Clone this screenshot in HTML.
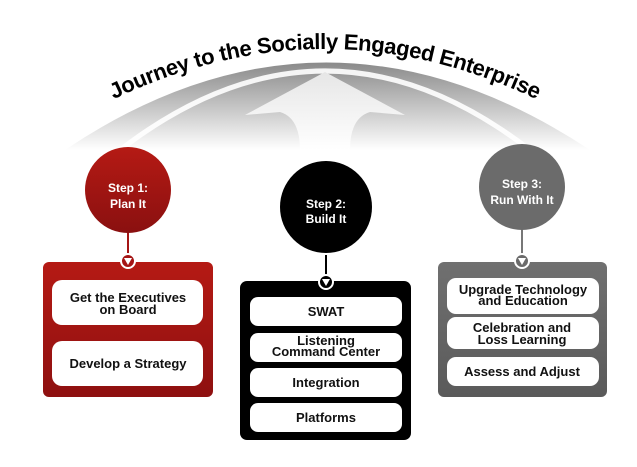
<!DOCTYPE html>
<html><head><meta charset="utf-8"><style>
html,body{margin:0;padding:0;background:#fff;width:637px;height:467px;overflow:hidden}
svg{display:block}
text{font-family:"Liberation Sans",sans-serif;font-weight:bold}
</style></head><body>
<svg width="637" height="467" viewBox="0 0 637 467" xmlns="http://www.w3.org/2000/svg">
<defs>
<linearGradient id="dome" x1="0" y1="0" x2="0" y2="1">
<stop offset="0" stop-color="#8a8a8a"/><stop offset="0.5" stop-color="#c4c4c4"/><stop offset="1" stop-color="#ffffff"/>
</linearGradient>
<linearGradient id="arr" x1="0" y1="0" x2="0" y2="1">
<stop offset="0" stop-color="#e6e6e6"/><stop offset="1" stop-color="#ffffff"/>
</linearGradient>
<linearGradient id="red" x1="0" y1="0" x2="0" y2="1">
<stop offset="0" stop-color="#b51a14"/><stop offset="1" stop-color="#8e1010"/>
</linearGradient>
<linearGradient id="redc" x1="0" y1="0" x2="0" y2="1">
<stop offset="0" stop-color="#b51a14"/><stop offset="1" stop-color="#8a1010"/>
</linearGradient>
<linearGradient id="gry" x1="0" y1="0" x2="0" y2="1">
<stop offset="0" stop-color="#707070"/><stop offset="1" stop-color="#5a5a5a"/>
</linearGradient>
<path id="tp" d="M100,106 Q325,-8 550,106"/>
</defs>
<path d="M65,150 Q325,-25 590,150 Z" fill="url(#dome)"/>
<path d="M120,150 Q325,-8 530,150" fill="none" stroke="#fff" stroke-width="5" opacity="0.9"/>
<path d="M325,72 L245,115 L280,112 Q300,118 300,150 L350,150 Q350,118 370,112 L405,115 Z" fill="url(#arr)"/>
<text font-size="22" fill="#000" letter-spacing="-0.4"><textPath href="#tp" startOffset="50%" text-anchor="middle">Journey to the Socially Engaged Enterprise</textPath></text>

<line x1="128" y1="230" x2="128" y2="258" stroke="#a51515" stroke-width="2"/>
<rect x="43" y="262" width="170" height="135" rx="6" fill="url(#red)"/>
<circle cx="128" cy="190" r="43" fill="url(#redc)"/>
<circle cx="128" cy="261" r="7" fill="#a51515" stroke="#fff" stroke-width="2"/>
<path d="M124,258 L132,258 L128,265 Z" fill="#fff"/>
<text x="128" y="192" font-size="12" fill="#fff" text-anchor="middle">Step 1:</text>
<text x="128" y="208" font-size="12" fill="#fff" text-anchor="middle">Plan It</text>
<rect x="52" y="280" width="151" height="45" rx="10" fill="#fff"/>
<rect x="52" y="341" width="151" height="45" rx="10" fill="#fff"/>
<text x="128" y="302" font-size="13" fill="#111" text-anchor="middle">Get the Executives</text>
<text x="128" y="314" font-size="13" fill="#111" text-anchor="middle">on Board</text>
<text x="128" y="368" font-size="13" fill="#111" text-anchor="middle">Develop a Strategy</text>

<line x1="326" y1="255" x2="326" y2="278" stroke="#000" stroke-width="2"/>
<rect x="240" y="281" width="171" height="159" rx="7" fill="#000"/>
<circle cx="326" cy="207" r="46" fill="#000"/>
<circle cx="326" cy="282" r="7" fill="#000" stroke="#fff" stroke-width="2"/>
<path d="M322,279 L330,279 L326,286 Z" fill="#fff"/>
<text x="326" y="208" font-size="12" fill="#fff" text-anchor="middle">Step 2:</text>
<text x="326" y="223" font-size="12" fill="#fff" text-anchor="middle">Build It</text>
<rect x="250" y="297" width="152" height="29" rx="8" fill="#fff"/>
<rect x="250" y="333" width="152" height="29" rx="8" fill="#fff"/>
<rect x="250" y="368" width="152" height="29" rx="8" fill="#fff"/>
<rect x="250" y="403" width="152" height="29" rx="8" fill="#fff"/>
<text x="326" y="316" font-size="13" fill="#111" text-anchor="middle">SWAT</text>
<text x="326" y="345" font-size="13" fill="#111" text-anchor="middle">Listening</text>
<text x="326" y="356" font-size="13" fill="#111" text-anchor="middle">Command Center</text>
<text x="326" y="387" font-size="13" fill="#111" text-anchor="middle">Integration</text>
<text x="326" y="422" font-size="13" fill="#111" text-anchor="middle">Platforms</text>

<line x1="522" y1="228" x2="522" y2="258" stroke="#777" stroke-width="2"/>
<rect x="438" y="262" width="169" height="135" rx="6" fill="url(#gry)"/>
<circle cx="522" cy="187" r="43" fill="#6b6b6b"/>
<circle cx="522" cy="261" r="7" fill="#6b6b6b" stroke="#fff" stroke-width="2"/>
<path d="M518,258 L526,258 L522,265 Z" fill="#fff"/>
<text x="522" y="188" font-size="12" fill="#fff" text-anchor="middle">Step 3:</text>
<text x="522" y="204" font-size="12" fill="#fff" text-anchor="middle">Run With It</text>
<rect x="447" y="278" width="152" height="36" rx="9" fill="#fff"/>
<rect x="447" y="317" width="152" height="32" rx="9" fill="#fff"/>
<rect x="447" y="357" width="152" height="29" rx="9" fill="#fff"/>
<text x="523" y="294" font-size="13" fill="#111" text-anchor="middle">Upgrade Technology</text>
<text x="523" y="305" font-size="13" fill="#111" text-anchor="middle">and Education</text>
<text x="522" y="332" font-size="13" fill="#111" text-anchor="middle">Celebration and</text>
<text x="522" y="344" font-size="13" fill="#111" text-anchor="middle">Loss Learning</text>
<text x="522" y="376" font-size="13" fill="#111" text-anchor="middle">Assess and Adjust</text>
</svg>
</body></html>
